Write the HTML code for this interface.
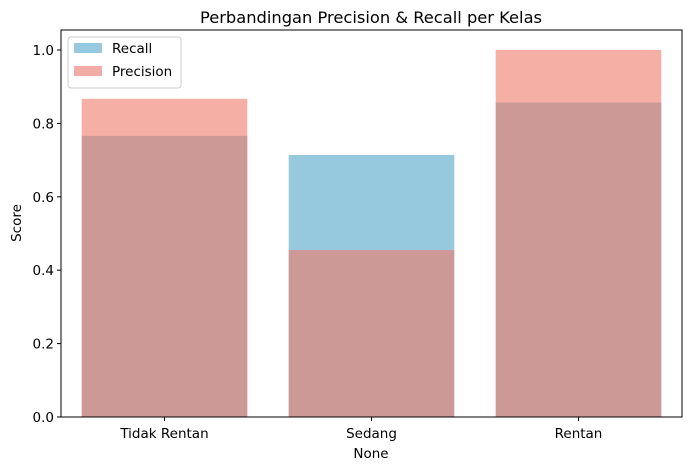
<!DOCTYPE html>
<html><head><meta charset="utf-8"><style>
body{margin:0;background:#fff;}
svg{font-family:"DejaVu Sans","Liberation Sans",sans-serif;}
</style></head><body>
<svg id="chart" width="691" height="470" xmlns="http://www.w3.org/2000/svg">
<rect width="691" height="470" fill="#fff"/>
<text x="371" y="23" text-anchor="middle" font-size="16.3" fill="#000">Perbandingan Precision &amp; Recall per Kelas</text>
<g id="bars"></g>
<g id="axes"></g>
<text x="371" y="458" text-anchor="middle" font-size="13.5">None</text>
<text transform="translate(21,223) rotate(-90)" text-anchor="middle" font-size="13.5">Score</text>
<g>
<rect x="68" y="37" width="113" height="51" rx="3" fill="#fff" fill-opacity="0.8" stroke="#ccc"/>
<rect x="74" y="43" width="28" height="10" fill="#96c9de"/>
<text x="112" y="53" font-size="13.5">Recall</text>
<rect x="74" y="66" width="28" height="10" fill="#f0aca5"/>
<text x="112" y="76" font-size="13.5">Precision</text>
</g>
</svg>
<script>
const categories=["Tidak Rentan","Sedang","Rentan"];
const recall=[0.766,0.714,0.857];
const precision=[0.867,0.455,1.0];
const yTicks=[0,0.2,0.4,0.6,0.8,1.0];
const X0=61,X1=682,Y0=417,YSCALE=367;
const band=(X1-X0)/categories.length;
const xc=i=>X0+band*(i+0.5);
const y=v=>Y0-v*YSCALE;
const NS="http://www.w3.org/2000/svg";
const bars=document.getElementById('bars'),axes=document.getElementById('axes');
function mk(p,tag,at){const e=document.createElementNS(NS,tag);for(const k in at)e.setAttribute(k,at[k]);p.appendChild(e);return e;}
const bw=band*0.8;
categories.forEach((c,i)=>{
 const r=mk(bars,'rect',{x:xc(i)-bw/2,y:y(recall[i]),width:bw,height:Y0-y(recall[i]),fill:'#96c9de'});
 
 
 const p=mk(bars,'rect',{x:xc(i)-bw/2,y:y(precision[i]),width:bw,height:Y0-y(precision[i]),fill:'#f07a68','fill-opacity':0.6});
 
 
 mk(axes,'line',{x1:xc(i),x2:xc(i),y1:Y0,y2:Y0+4,stroke:'#000'});
 const t=mk(axes,'text',{x:xc(i),y:Y0+21,'text-anchor':'middle','font-size':13.5});
 t.textContent=c;
 
 
});
yTicks.forEach(v=>{
 mk(axes,'line',{x1:X0-4,x2:X0,y1:y(v),y2:y(v),stroke:'#000'});
 const t=mk(axes,'text',{x:X0-7,y:y(v)+5,'text-anchor':'end','font-size':13.5});
 t.textContent=v.toFixed(1);
 
 
});
mk(axes,'rect',{x:X0,y:30,width:X1-X0,height:Y0-30,fill:'none',stroke:'#000','stroke-width':1});
</script>
</body></html>
